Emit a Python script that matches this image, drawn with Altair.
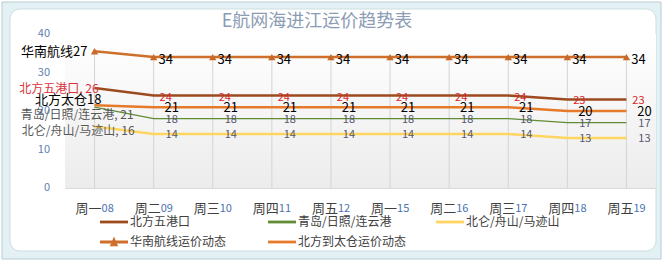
import altair as alt
import pandas as pd

FONT = "Noto Sans CJK SC"

categories = ["周一08", "周二09", "周三10", "周四11", "周五12",
              "周一15", "周二16", "周三17", "周四18", "周五19"]
series_names = ["北方五港口", "青岛/日照/连云港", "北仑/舟山/马迹山",
                "华南航线运价动态", "北方到太仓运价动态"]
north_five = [26, 24, 24, 24, 24, 24, 24, 24, 23, 23]
qingdao = [21, 18, 18, 18, 18, 18, 18, 18, 17, 17]
beilun = [16, 14, 14, 14, 14, 14, 14, 14, 13, 13]
south_china = [35.5, 34, 34, 34, 34, 34, 34, 34, 34, 34]
taicang = [21.5, 21, 21, 21, 21, 21, 21, 21, 20, 20]
first_labels = ["北方五港口, 26", "青岛/日照/连云港, 21", "北仑/舟山/马迹山, 16",
                "华南航线27", "北方太仓18"]
value_labels = [
    ["26", "24", "24", "24", "24", "24", "24", "24", "23", "23"],
    ["21", "18", "18", "18", "18", "18", "18", "18", "17", "17"],
    ["16", "14", "14", "14", "14", "14", "14", "14", "13", "13"],
    ["27", "34", "34", "34", "34", "34", "34", "34", "34", "34"],
    ["18", "21", "21", "21", "21", "21", "21", "21", "20", "20"],
]
y_ticks = [0, 10, 20, 30, 40]
title_text = "E航网海进江运价趋势表"

all_values = [north_five, qingdao, beilun, south_china, taicang]
line_colors = ["#9c4a1e", "#5f8c34", "#ffd561", "#cf6f2c", "#e57a2a"]
line_widths = [2.5, 1.3, 2.5, 2.5, 2.5]

rows = []
for s, vals, labs in zip(series_names, all_values, value_labels):
    for i, (c, v, t) in enumerate(zip(categories, vals, labs)):
        rows.append({"series": s, "cat": c, "idx": i, "v": v, "label": t})
df = pd.DataFrame(rows)
first_df = pd.DataFrame({"series": series_names, "cat": [categories[0]] * 5,
                         "v": [vals[0] for vals in all_values], "label": first_labels})
cat_df = pd.DataFrame({"cat": categories})
tick_df = pd.DataFrame({"v": y_ticks})
one = pd.DataFrame({"a": [0]})

W, H = 591, 154

xenc = alt.X("cat:N", sort=categories,
             scale=alt.Scale(type="point", domain=categories, padding=0.5),
             axis=alt.Axis(title=None, labels=False, ticks=False, grid=False,
                           domain=True, domainColor="#d9d9d9", zindex=1))
yenc = alt.Y("v:Q", scale=alt.Scale(domain=[0, 40], nice=False, zero=True), axis=None)

outer = alt.Chart(one).mark_rect(fill="#e4f1f4", stroke="#b9ccd2", strokeWidth=1).encode(
    x=alt.value(-63), x2=alt.value(596), y=alt.value(-32), y2=alt.value(225))
inner = alt.Chart(one).mark_rect(fill="white", stroke="#cddde1", strokeWidth=1,
                                 cornerRadius=10).encode(
    x=alt.value(-55), x2=alt.value(591), y=alt.value(-25), y2=alt.value(217))
plotbg = alt.Chart(one).mark_rect(
    color=alt.Gradient(gradient="linear",
                       stops=[alt.GradientStop(color="#ffffff", offset=0),
                              alt.GradientStop(color="#ececec", offset=1)],
                       x1=0, x2=0, y1=0, y2=1)).encode(
    x=alt.value(0), x2=alt.value(W), y=alt.value(0), y2=alt.value(H))
title = alt.Chart(one).mark_text(text=title_text, font=FONT, fontSize=18,
                                 color="#8c9cb4", align="center", baseline="middle").encode(
    x=alt.value(252), y=alt.value(-12))

ylabels = alt.Chart(tick_df).mark_text(font=FONT, fontSize=11, color="#5f7fb3",
                                       align="right", baseline="middle").encode(
    x=alt.value(-15), y=yenc, text="v:Q")

base = alt.Chart(df)

drops = base.transform_filter(alt.datum.series == "华南航线运价动态").mark_rule(
    color="#d4d4d4", strokeWidth=1).encode(x=xenc, y=yenc, y2=alt.Y2(datum=0))

line_layers = []
for s, col, w in zip(series_names, line_colors, line_widths):
    line_layers.append(
        base.transform_filter(alt.datum.series == s).mark_line(
            color=col, strokeWidth=w).encode(x=xenc, y=yenc, order=alt.Order("idx:Q")))

tris = base.transform_filter(alt.datum.series == "华南航线运价动态").mark_point(
    shape="triangle-up", filled=True, size=55, color="#c8692a", opacity=1).encode(
    x=xenc, y=yenc)

label_styles = {
    "北方五港口": dict(color="#d9262b", fontSize=11, dx=12, dy=2),
    "青岛/日照/连云港": dict(color="#575770", fontSize=11, dx=18, dy=1),
    "北仑/舟山/马迹山": dict(color="#575770", fontSize=11, dx=18, dy=1),
    "华南航线运价动态": dict(color="#000000", fontSize=13, dx=12, dy=3),
    "北方到太仓运价动态": dict(color="#000000", fontSize=13, dx=18, dy=1),
}
first_styles = {
    "北方五港口": dict(color="#d9333b", fontSize=12, dx=4, dy=1),
    "青岛/日照/连云港": dict(color="#595959", fontSize=12, dx=39, dy=8),
    "北仑/舟山/马迹山": dict(color="#595959", fontSize=12, dx=40, dy=5),
    "华南航线运价动态": dict(color="#000000", fontSize=13, dx=-7, dy=1),
    "北方到太仓运价动态": dict(color="#000000", fontSize=13, dx=7, dy=-5),
}

label_layers = []
for s in series_names:
    st = label_styles[s]
    label_layers.append(
        base.transform_filter((alt.datum.series == s) & (alt.datum.idx > 0)).mark_text(
            font=FONT, align="center", baseline="middle", **st).encode(
            x=xenc, y=yenc, text="label:N"))
    fs = first_styles[s]
    label_layers.append(
        alt.Chart(first_df).transform_filter(alt.datum.series == s).mark_text(
            font=FONT, align="right", baseline="middle", **fs).encode(
            x=xenc, y=yenc, text="label:N"))

xlab_day = alt.Chart(cat_df).transform_calculate(
    day="substring(datum.cat, 0, 2)").mark_text(
    font=FONT, fontSize=13, color="#404040", align="right", baseline="middle",
    dx=7, dy=21).encode(x=xenc, y=alt.Y(datum=0, axis=None), text="day:N")
xlab_num = alt.Chart(cat_df).transform_calculate(
    num="substring(datum.cat, 2)").mark_text(
    font=FONT, fontSize=11, color="#4a72b0", align="left", baseline="middle",
    dx=7, dy=21).encode(x=xenc, y=alt.Y(datum=0, axis=None), text="num:N")

line_path = "M-1,-0.1L1,-0.1L1,0.1L-1,0.1Z"
tri_path = "M-1,-0.1L1,-0.1L1,0.1L-1,0.1Z M-0.3,0.3L0,-0.4L0.3,0.3Z"
legend_cfg = dict(title=None, orient="none", legendX=35, legendY=174, columns=3,
                  direction="horizontal", symbolSize=784, symbolStrokeWidth=0,
                  labelFont=FONT, labelFontSize=12, labelColor="#404040",
                  labelOffset=2, columnPadding=29, rowPadding=-8, gridAlign="all",
                  zindex=1)
legend_layer = base.transform_filter(alt.datum.v < -999).mark_point(
    filled=True, opacity=1).encode(
    x=xenc, y=yenc,
    fill=alt.Fill("series:N", scale=alt.Scale(domain=series_names, range=line_colors),
                  legend=alt.Legend(**legend_cfg)),
    shape=alt.Shape("series:N",
                    scale=alt.Scale(domain=series_names,
                                    range=[line_path, line_path, line_path, tri_path, line_path]),
                    legend=alt.Legend(**legend_cfg)))

chart = alt.layer(outer, inner, plotbg, title, ylabels, drops, *line_layers, tris,
                  *label_layers, xlab_day, xlab_num, legend_layer).properties(
    width=W, height=H,
    autosize=alt.AutoSizeParams(type="none"),
    padding={"left": 65, "top": 34, "right": 10, "bottom": 78},
).configure_view(strokeWidth=0).configure(background="white")

chart.save("out.html", embed_options={"renderer": "svg", "actions": False})
